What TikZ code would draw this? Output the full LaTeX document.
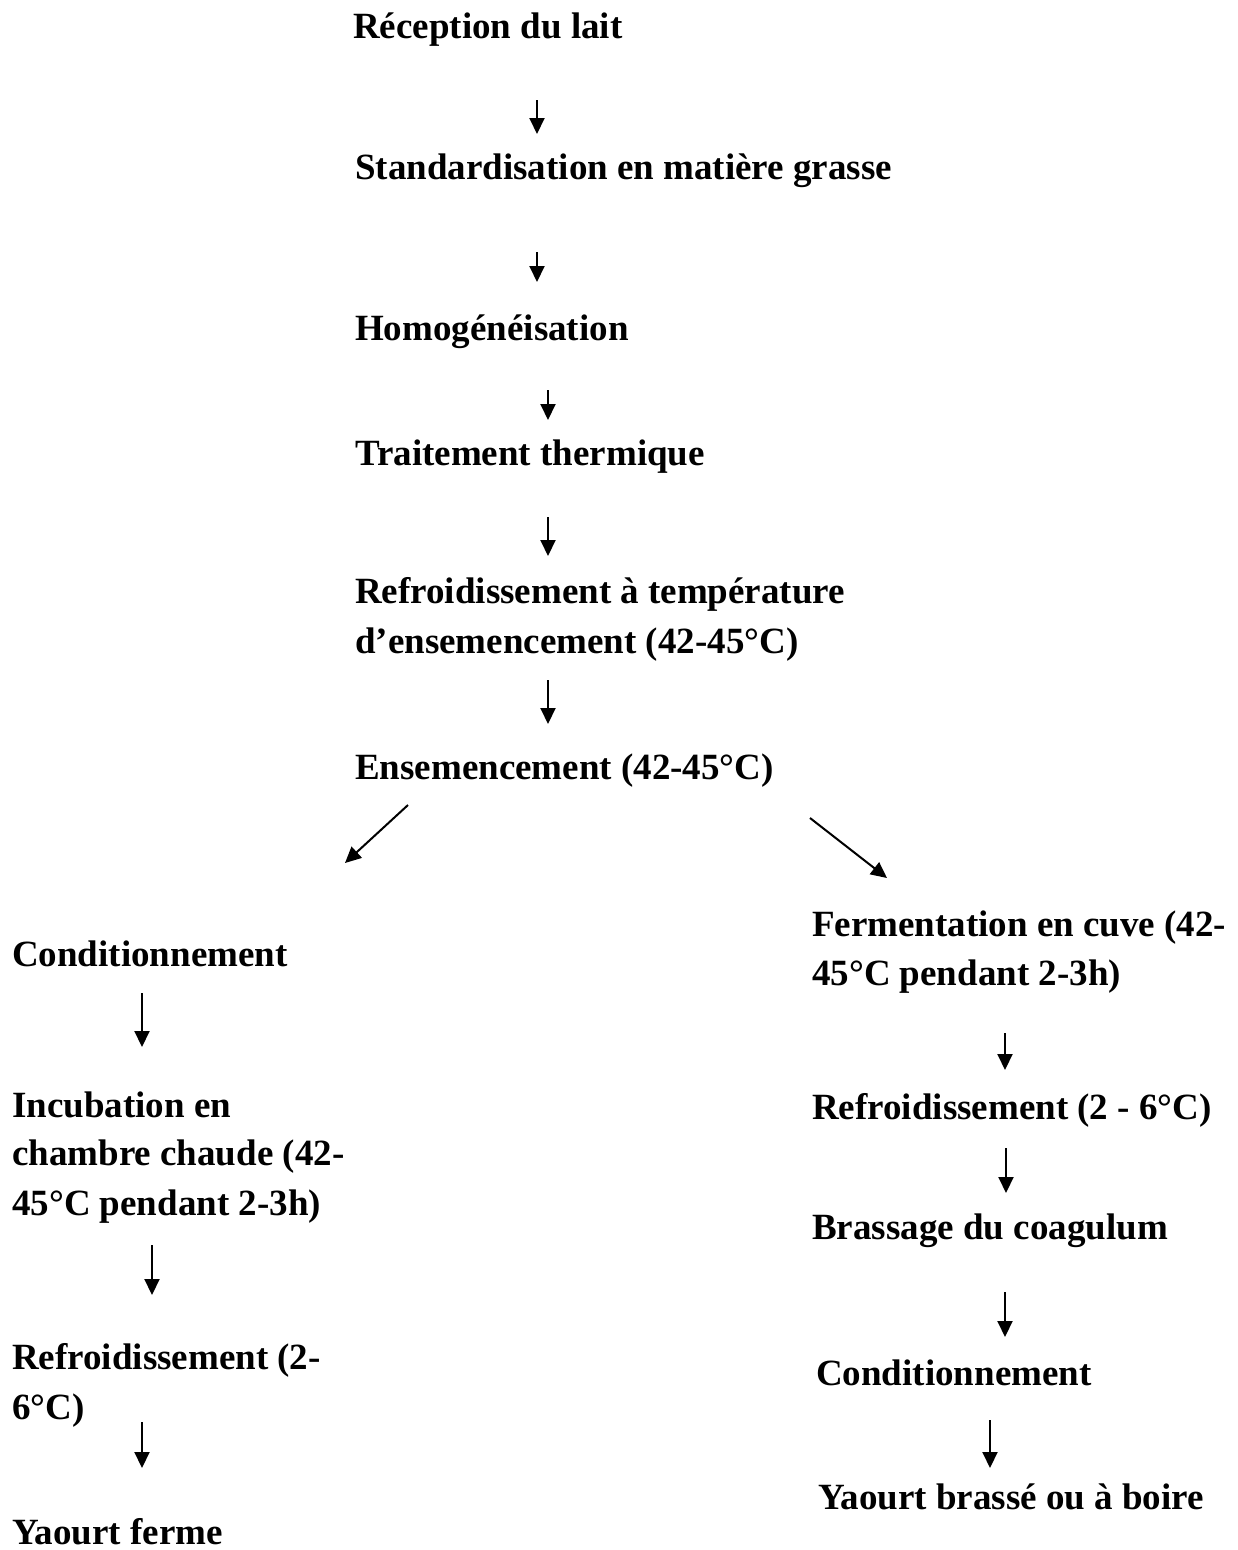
\documentclass[tikz,border=0pt]{standalone}
\usepackage{fontspec}
\setmainfont{Liberation Serif}
\usetikzlibrary{arrows.meta}
\tikzset{
  lbl/.style={anchor=base west, inner sep=0pt, font=\fontsize{37}{50}\selectfont\bfseries},
  arr/.style={line width=2pt, -{Triangle[width=15pt,length=16pt]}}
}
\begin{document}
\begin{tikzpicture}[x=1pt,y=-1pt]
\useasboundingbox (0,0) rectangle (1238,1550);
% main column
\node[lbl] (rec) at (353,38) {Réception du lait};
\node[lbl] (std) at (355,179) {Standardisation en matière grasse};
\node[lbl] (hom) at (355,340) {Homogénéisation};
\node[lbl] (tt) at (355,465) {Traitement thermique};
\node[lbl] (ref1) at (355,603) {Refroidissement à température};
\node[lbl] (ref1b) at (355,653) {d’ensemencement (42-45°C)};
\node[lbl] (ens) at (355,779) {Ensemencement (42-45°C)};
% left branch
\node[lbl] (condL) at (12,966) {Conditionnement};
\node[lbl] (inc1) at (12,1117) {Incubation en};
\node[lbl] (inc2) at (12,1165) {chambre chaude (42-};
\node[lbl] (inc3) at (12,1215) {45°C pendant 2-3h)};
\node[lbl] (refL1) at (12,1369) {Refroidissement (2-};
\node[lbl] (refL2) at (12,1419) {6°C)};
\node[lbl] (yf) at (12,1544) {Yaourt ferme};
% right branch
\node[lbl] (fer1) at (812,936) {Fermentation en cuve (42-};
\node[lbl] (fer2) at (812,985) {45°C pendant 2-3h)};
\node[lbl] (refR) at (812,1119) {Refroidissement (2 - 6°C)};
\node[lbl] (bra) at (812,1239) {Brassage du coagulum};
\node[lbl] (condR) at (816,1385) {Conditionnement};
\node[lbl] (yb) at (818,1509) {Yaourt brassé ou à boire};
% arrow endpoints
\coordinate (a1s) at (537,100); \coordinate (a1e) at (537,134);
\coordinate (a2s) at (537,252); \coordinate (a2e) at (537,282);
\coordinate (a3s) at (548,390); \coordinate (a3e) at (548,420);
\coordinate (a4s) at (548,517); \coordinate (a4e) at (548,556);
\coordinate (a5s) at (548,680); \coordinate (a5e) at (548,724);
\coordinate (dls) at (408,805); \coordinate (dle) at (345,863);
\coordinate (drs) at (810,818); \coordinate (dre) at (887,878);
\coordinate (l1s) at (142,993); \coordinate (l1e) at (142,1047);
\coordinate (l2s) at (152,1245); \coordinate (l2e) at (152,1295);
\coordinate (l3s) at (142,1422); \coordinate (l3e) at (142,1468);
\coordinate (r1s) at (1005,1033); \coordinate (r1e) at (1005,1070);
\coordinate (r2s) at (1006,1148); \coordinate (r2e) at (1006,1193);
\coordinate (r3s) at (1005,1292); \coordinate (r3e) at (1005,1337);
\coordinate (r4s) at (990,1420); \coordinate (r4e) at (990,1468);
\foreach \s/\e in {a1s/a1e,a2s/a2e,a3s/a3e,a4s/a4e,a5s/a5e,dls/dle,drs/dre,
  l1s/l1e,l2s/l2e,l3s/l3e,r1s/r1e,r2s/r2e,r3s/r3e,r4s/r4e}
  \draw[arr] (\s) -- (\e);
\end{tikzpicture}
\end{document}
